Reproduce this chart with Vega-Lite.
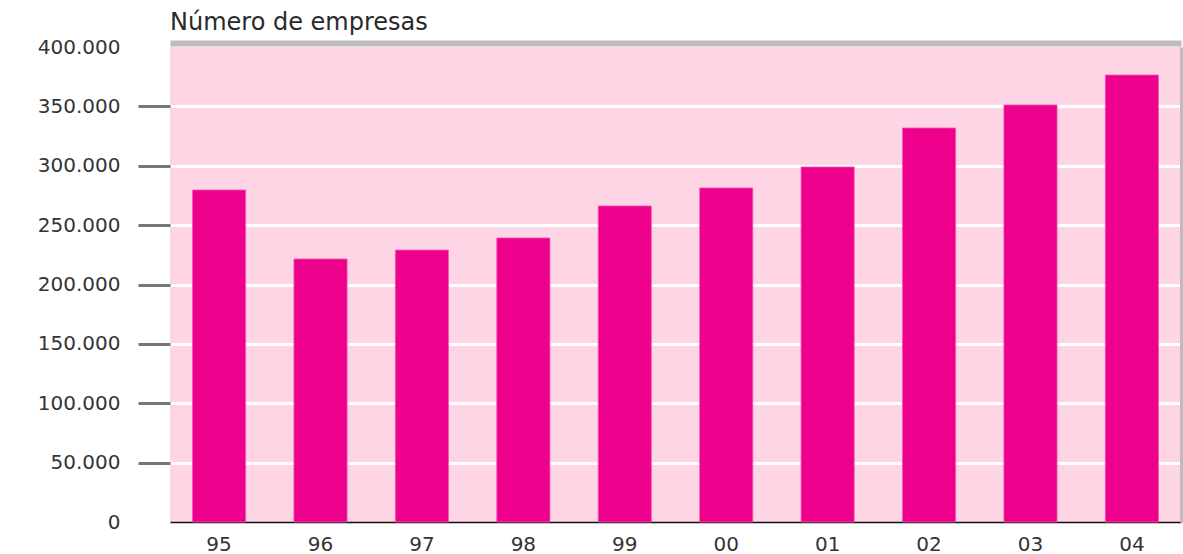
{
  "$schema": "https://vega.github.io/schema/vega-lite/v6.json",
  "autosize": "none",
  "width": 1011,
  "height": 475,
  "padding": {"left": 170, "top": 47, "right": 2, "bottom": 32},
  "background": "white",
  "title": {
    "text": "Número de empresas",
    "anchor": "start",
    "frame": "group",
    "orient": "top",
    "offset": 2,
    "font": "DejaVu Sans",
    "fontSize": 24,
    "fontWeight": "normal",
    "color": "#2a2a2a"
  },
  "data": {
    "values": [
      {"year": "95", "empresas": 279600},
      {"year": "96", "empresas": 221500},
      {"year": "97", "empresas": 229000},
      {"year": "98", "empresas": 239200},
      {"year": "99", "empresas": 266100},
      {"year": "00", "empresas": 281300},
      {"year": "01", "empresas": 299000},
      {"year": "02", "empresas": 331800},
      {"year": "03", "empresas": 351200},
      {"year": "04", "empresas": 376400}
    ]
  },
  "layer": [
    {
      "mark": {"type": "bar", "color": "#EC008C", "stroke": "#F25AAE", "strokeWidth": 0.8},
      "encoding": {
        "x": {
          "field": "year",
          "type": "ordinal",
          "sort": null,
          "scale": {"paddingInner": 0.476, "paddingOuter": 0.222},
          "axis": {
            "title": null,
            "orient": "bottom",
            "domain": true,
            "domainColor": "#111111",
            "domainWidth": 1.5,
            "ticks": false,
            "labelAngle": 0,
            "labelPadding": 12,
            "labelFont": "DejaVu Sans",
            "labelFontSize": 20,
            "labelColor": "#333333",
            "grid": false
          }
        },
        "y": {
          "field": "empresas",
          "type": "quantitative",
          "scale": {"domain": [0, 400000], "nice": false},
          "axis": {
            "title": null,
            "orient": "left",
            "values": [0, 50000, 100000, 150000, 200000, 250000, 300000, 350000, 400000],
            "labelExpr": "replace(format(datum.value, ','), ',', '.')",
            "domain": false,
            "ticks": true,
            "tickSize": 32,
            "tickWidth": 3,
            "tickColor": {"condition": {"test": "datum.value == 0 || datum.value == 400000", "value": "transparent"}, "value": "#777777"},
            "labelPadding": 18,
            "labelFont": "DejaVu Sans",
            "labelFontSize": 20,
            "labelColor": "#333333",
            "grid": true,
            "gridColor": {"condition": {"test": "datum.value == 0 || datum.value == 400000", "value": "transparent"}, "value": "#FFFFFF"},
            "gridWidth": 3,
            "gridOpacity": 1
          }
        }
      }
    },
    {
      "mark": {"type": "bar", "opacity": 0},
      "encoding": {
        "x": {
          "field": "year",
          "type": "ordinal",
          "sort": null,
          "axis": {
            "title": null,
            "orient": "top",
            "domain": true,
            "domainColor": "#BDBDBD",
            "domainWidth": 6,
            "offset": 4,
            "ticks": false,
            "labels": false,
            "grid": false
          }
        },
        "y": {
          "field": "empresas",
          "type": "quantitative",
          "axis": {
            "title": null,
            "orient": "right",
            "domain": true,
            "domainColor": "#BDBDBD",
            "domainWidth": 3,
            "ticks": false,
            "labels": false,
            "grid": false
          }
        }
      }
    }
  ],
  "resolve": {"axis": {"x": "independent", "y": "independent"}},
  "config": {
    "view": {"fill": "#FDD5E5", "stroke": null}
  }
}
